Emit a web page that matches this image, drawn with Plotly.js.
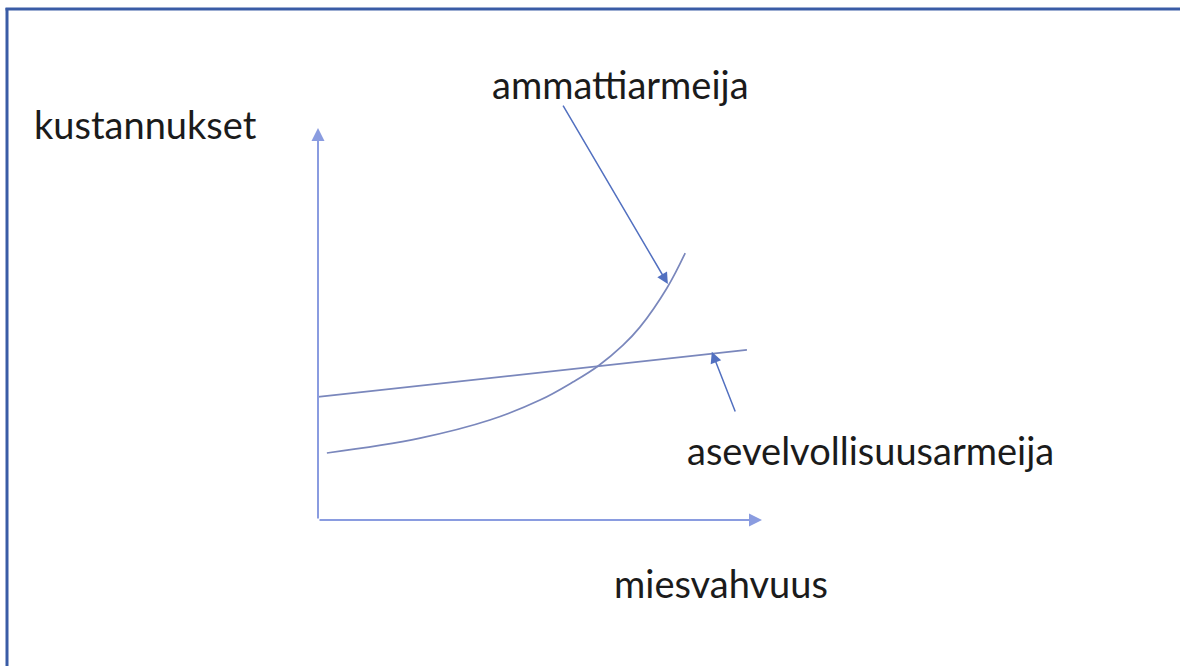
<!DOCTYPE html>
<html>
<head>
<meta charset="utf-8">
<script src="https://cdn.plot.ly/plotly-3.0.1.min.js"></script>
<style>html,body{margin:0;padding:0;background:#fff;}#chart{width:1180px;height:666px;}</style>
</head>
<body>
<div id="chart"></div>
<script>
// Axis labels and series names
const axisLabels = ["miesvahvuus", "kustannukset"];
const seriesNames = ["ammattiarmeija", "asevelvollisuusarmeija"];

// Curve: professional army cost vs manpower
const proX = [0.20, 2.30, 3.87, 5.00, 5.74, 6.31, 6.87, 7.25, 7.86, 8.27];
const proY = [1.71, 2.09, 2.55, 3.06, 3.52, 3.93, 4.46, 4.92, 5.92, 6.81];

// Straight line: conscript army cost vs manpower
const conX = [0.00, 9.66];
const conY = [3.14, 4.34];

// Axis extent (arrow tips)
const axisMax = [10, 10];

const W = 1180, H = 666;
const lineCol = '#7a87bc';
const arrowCol = '#5270c0';
const axisCol = '#8a9ce0';
const txtFont = {family: 'Lato, "Open Sans", sans-serif', size: 38, color: '#1b1b1b'};

const traces = [
  {x: proX, y: proY, mode: 'lines', name: seriesNames[0], line: {color: lineCol, width: 1.7, shape: 'spline', smoothing: 1.1}, hoverinfo: 'skip'},
  {x: conX, y: conY, mode: 'lines', name: seriesNames[1], line: {color: lineCol, width: 1.7}, hoverinfo: 'skip'}
];

function px(v){return v/W;}
function py(v){return 1 - v/H;}

const annotations = [
  // axes as arrows
  {x: 0, y: axisMax[1], ax: 0, ay: 0, xref: 'x', yref: 'y', axref: 'x', ayref: 'y', text: '', showarrow: true, arrowhead: 2, arrowsize: 1.3, arrowwidth: 2, arrowcolor: axisCol, standoff: 0, startstandoff: 0},
  {x: axisMax[0], y: 0, ax: 0, ay: 0, xref: 'x', yref: 'y', axref: 'x', ayref: 'y', text: '', showarrow: true, arrowhead: 2, arrowsize: 1.3, arrowwidth: 2, arrowcolor: axisCol, standoff: 0, startstandoff: 0},
  // pointer arrows
  {x: 7.88, y: 6.02, ax: 5.50, ay: 10.61, xref: 'x', yref: 'y', axref: 'x', ayref: 'y', text: '', showarrow: true, arrowhead: 2, arrowsize: 1.5, arrowwidth: 1.5, arrowcolor: arrowCol, standoff: 0},
  {x: 8.87, y: 4.29, ax: 9.41, ay: 2.73, xref: 'x', yref: 'y', axref: 'x', ayref: 'y', text: '', showarrow: true, arrowhead: 2, arrowsize: 1.5, arrowwidth: 1.5, arrowcolor: arrowCol, standoff: 0},
  // texts
  {x: px(145), y: py(124), xref: 'paper', yref: 'paper', text: axisLabels[1], showarrow: false, font: txtFont, xanchor: 'center', yanchor: 'middle'},
  {x: px(721), y: py(583), xref: 'paper', yref: 'paper', text: axisLabels[0], showarrow: false, font: txtFont, xanchor: 'center', yanchor: 'middle'},
  {x: px(620), y: py(84), xref: 'paper', yref: 'paper', text: seriesNames[0], showarrow: false, font: txtFont, xanchor: 'center', yanchor: 'middle'},
  {x: px(870), y: py(450), xref: 'paper', yref: 'paper', text: seriesNames[1], showarrow: false, font: txtFont, xanchor: 'center', yanchor: 'middle'}
];

const shapes = [
  {type: 'line', xref: 'paper', yref: 'paper', x0: px(7), x1: px(7), y0: 0, y1: py(8), line: {color: '#3a5ca6', width: 3}},
  {type: 'line', xref: 'paper', yref: 'paper', x0: px(5.5), x1: 1, y0: py(9), y1: py(9), line: {color: '#3a5ca6', width: 3}}
];

const layout = {
  width: W, height: H,
  margin: {l: 0, r: 0, t: 0, b: 0},
  paper_bgcolor: '#ffffff', plot_bgcolor: '#ffffff',
  showlegend: false,
  xaxis: {range: [-318/44.4, (W-318)/44.4], visible: false, fixedrange: true},
  yaxis: {range: [-(H-520)/39.2, 520/39.2], visible: false, fixedrange: true},
  annotations: annotations,
  shapes: shapes
};

Plotly.newPlot('chart', traces, layout, {staticPlot: true, displayModeBar: false});
</script>
</body>
</html>
